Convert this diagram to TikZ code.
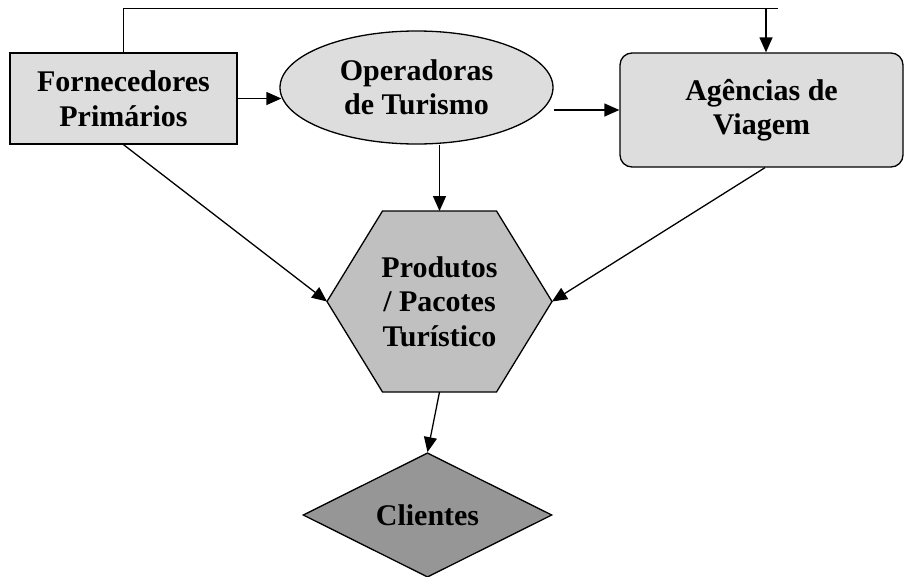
\documentclass[tikz,border=0pt]{standalone}
\usepackage{fontspec}
\setmainfont{Liberation Serif}
\usetikzlibrary{shapes.geometric,arrows.meta}

\definecolor{lightfill}{HTML}{DDDDDD}
\definecolor{midfill}{HTML}{C0C0C0}
\definecolor{darkfill}{HTML}{969696}

\tikzset{
    lbl/.style={font=\fontsize{30}{34.5}\selectfont\bfseries, align=center,
        inner sep=0pt},
    box/.style={lbl, draw, line width=1.3pt},
    link/.style={line width=1.3pt},
    arr/.style={line width=1.3pt, -{Triangle[length=15pt, width=13pt]}},
}

\begin{document}
\begin{tikzpicture}[x=1pt, y=-1pt]
        \useasboundingbox (0, 0) rectangle (905, 576);
        \pgfmathsetmacro\hexx{439.5};
        \pgfmathsetmacro\hexy{301.5};

        % Fornecedores
        \node[box, fill=lightfill, minimum width=227pt, minimum height=91pt]
            (prim) at (123.5, 98.5) {Fornecedores\\Primários};

        % Operadoras
        \node[box, ellipse, fill=lightfill, minimum width=273pt,
            minimum height=113pt] (oper) at (416.5, 87.5)
            {Operadoras\\de Turismo};

        % Agencias
        \node[box, rounded corners=12pt, fill=lightfill, minimum width=283pt,
            minimum height=114pt] (agen) at (761.5, 110)
            {Agências de\\Viagem};

        % Produtos
        \coordinate (prodL) at (\hexx - 112.5, \hexy);
        \coordinate (prodR) at (\hexx + 112.5, \hexy);
        \coordinate (prodT) at (\hexx, \hexy - 90.5);
        \coordinate (prodB) at (\hexx, \hexy + 90.5);
        \draw[link, fill=midfill] (prodL) -- (\hexx - 57, \hexy - 90.5) --
            (\hexx + 57, \hexy - 90.5) -- (prodR) --
            (\hexx + 57, \hexy + 90.5) -- (\hexx - 57, \hexy + 90.5) -- cycle;
        \node[lbl] (prod) at (\hexx, \hexy) {Produtos\\/ Pacotes\\Turístico};

        % Clientes
        \node[box, diamond, fill=darkfill, minimum width=249pt,
            minimum height=112pt] (clie) at (427.5, 515) {Clientes};

        % top line
        \coordinate (topend) at (778, 8.5);
        \coordinate (drop) at (766, 8.5);
        \draw[link] (prim.north) |- (topend);
        \draw[arr] (drop) -- (drop |- agen.north);

        % arrows
        \draw[arr] (prim.east) -- ([xshift=2pt]oper.west |- prim.east);
        \draw[arr] (oper.east |- agen.west) -- (agen.west);
        \draw[arr] (oper.south -| prodT) -- (prodT);
        \draw[arr] (prim.south) -- (prodL);
        \draw[arr] ([xshift=3.5pt]agen.south) -- (prodR);
        \draw[arr] (prodB) -- (clie.north);
    \end{tikzpicture}
\end{document}
